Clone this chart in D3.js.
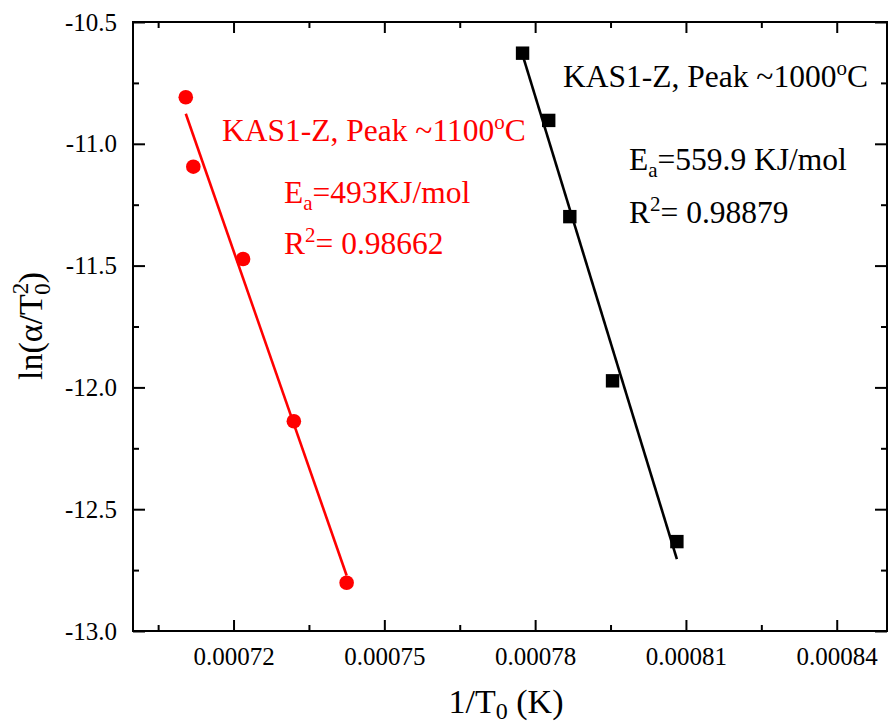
<!DOCTYPE html>
<html>
<head>
<meta charset="utf-8">
<script src="https://cdn.jsdelivr.net/npm/d3@7"></script>
<style>
  body { margin: 0; background: #fff; }
  svg text { font-family: "Liberation Serif", "Times New Roman", serif; }
</style>
</head>
<body>
<div id="chart"></div>
<script>
// data
var redX = [0.0007105, 0.0007120, 0.0007219, 0.0007320, 0.0007425];
var redY = [-10.809, -11.094, -11.473, -12.139, -12.802];
var blackX = [0.0007775, 0.0007827, 0.0007869, 0.0007954, 0.0008082];
var blackY = [-10.628, -10.904, -11.299, -11.973, -12.633];

var xTicks = [0.00072, 0.00075, 0.00078, 0.00081, 0.00084];
var xMinor = [0.000705, 0.000735, 0.000765, 0.000795, 0.000825];
var yTicks = [-13.0, -12.5, -12.0, -11.5, -11.0, -10.5];
var yMinor = [-12.75, -12.25, -11.75, -11.25, -10.75];

var W = 889, H = 724;
var pLeft = 133, pRight = 887, pTop = 22, pBottom = 631;
var serif = '"Liberation Serif", "Times New Roman", serif';

var svg = d3.select("#chart")
  .append("svg")
    .attr("width", W)
    .attr("height", H);

var x = d3.scaleLinear().domain([0.0007, 0.00085]).range([pLeft, pRight]);
var y = d3.scaleLinear().domain([-13.0, -10.5]).range([pBottom, pTop]);

var fmtY = function(d) { return d3.format(".1f")(d).replace("\u2212", "-"); };
var fmtX = d3.format(".5f");

// axes: major with labels, minor without, all ticks pointing inward
function styleAxis(g) {
  g.attr("font-family", serif);
  g.select(".domain").remove();
  g.selectAll("line").attr("stroke", "#000").attr("stroke-width", 2);
  g.selectAll("text").attr("fill", "#000")
    .style("font-family", serif)
    .style("font-size", "25px");
}

svg.append("g")
  .attr("transform", "translate(0," + pBottom + ")")
  .call(d3.axisBottom(x).tickValues(xTicks).tickFormat(fmtX).tickSize(-11).tickPadding(16))
  .call(styleAxis);
svg.append("g")
  .attr("transform", "translate(0," + pBottom + ")")
  .call(d3.axisBottom(x).tickValues(xMinor).tickFormat("").tickSize(-6))
  .call(styleAxis);
svg.append("g")
  .attr("transform", "translate(0," + pTop + ")")
  .call(d3.axisTop(x).tickValues(xTicks).tickFormat("").tickSize(-11))
  .call(styleAxis);
svg.append("g")
  .attr("transform", "translate(0," + pTop + ")")
  .call(d3.axisTop(x).tickValues(xMinor).tickFormat("").tickSize(-6))
  .call(styleAxis);

svg.append("g")
  .attr("transform", "translate(" + pLeft + ",0)")
  .call(d3.axisLeft(y).tickValues(yTicks).tickFormat(fmtY).tickSize(-12).tickPadding(16))
  .call(styleAxis);
svg.append("g")
  .attr("transform", "translate(" + pLeft + ",0)")
  .call(d3.axisLeft(y).tickValues(yMinor).tickFormat("").tickSize(-6))
  .call(styleAxis);
svg.append("g")
  .attr("transform", "translate(" + pRight + ",0)")
  .call(d3.axisRight(y).tickValues(yTicks).tickFormat("").tickSize(-12))
  .call(styleAxis);
svg.append("g")
  .attr("transform", "translate(" + pRight + ",0)")
  .call(d3.axisRight(y).tickValues(yMinor).tickFormat("").tickSize(-6))
  .call(styleAxis);

// frame
svg.append("rect")
  .attr("x", pLeft).attr("y", pTop)
  .attr("width", pRight - pLeft).attr("height", pBottom - pTop)
  .attr("fill", "none").attr("stroke", "#000").attr("stroke-width", 2);

// least squares fit over the data range
function fit(xs, ys) {
  var mx = d3.mean(xs), my = d3.mean(ys);
  var sxy = d3.sum(xs, function(v, i) { return (v - mx) * (ys[i] - my); });
  var sxx = d3.sum(xs, function(v) { return (v - mx) * (v - mx); });
  var b = sxy / sxx, a = my - b * mx;
  var x0 = d3.min(xs), x1 = d3.max(xs);
  return [[x0, a + b * x0], [x1, a + b * x1]];
}

var line = d3.line()
  .x(function(d) { return x(d[0]); })
  .y(function(d) { return y(d[1]); });

svg.append("path")
  .attr("d", line(fit(redX, redY)))
  .attr("stroke", "#ff0000").attr("stroke-width", 2.6).attr("fill", "none");
svg.append("path")
  .attr("d", line(fit(blackX, blackY)))
  .attr("stroke", "#000").attr("stroke-width", 2.6).attr("fill", "none");

svg.selectAll(".red")
  .data(redX)
  .enter().append("circle")
    .attr("class", "red")
    .attr("cx", function(d) { return x(d); })
    .attr("cy", function(d, i) { return y(redY[i]); })
    .attr("r", 7.3)
    .attr("fill", "#ff0000");

svg.selectAll(".black")
  .data(blackX)
  .enter().append("rect")
    .attr("class", "black")
    .attr("x", function(d) { return x(d) - 6.7; })
    .attr("y", function(d, i) { return y(blackY[i]) - 6.7; })
    .attr("width", 13.4)
    .attr("height", 13.4)
    .attr("fill", "#000");

// axis titles
var xt = svg.append("text")
  .attr("x", 506).attr("y", 713)
  .attr("text-anchor", "middle")
  .style("font-size", "34px");
xt.append("tspan").text("1/T");
xt.append("tspan").attr("dy", 6).style("font-size", "24px").text("0");
xt.append("tspan").attr("dy", -6).text(" (K)");

var yt = svg.append("text")
  .attr("transform", "translate(42,326) rotate(-90)")
  .attr("text-anchor", "middle")
  .style("font-size", "34px");
yt.append("tspan").text("ln(\u03b1/T");
yt.append("tspan").attr("dy", -14).style("font-size", "23px").text("2");
yt.append("tspan").attr("dx", -12).attr("dy", 22).style("font-size", "23px").text("0");
yt.append("tspan").attr("dy", -8).text(")");

// annotations
function label(g, tx, ty, color, parts) {
  var t = g.append("text").attr("x", tx).attr("y", ty).attr("fill", color).style("font-size", "31.5px");
  parts.forEach(function(p) {
    var s = t.append("tspan").text(p.t);
    if (p.dy) s.attr("dy", p.dy);
    if (p.small) s.style("font-size", "21px");
  });
}

label(svg, 222, 141, "#ff0000", [{t: "KAS1-Z, Peak ~1100"}, {t: "o", dy: -12, small: true}, {t: "C", dy: 12}]);
label(svg, 284, 203, "#ff0000", [{t: "E"}, {t: "a", dy: 7, small: true}, {t: "=493KJ/mol", dy: -7}]);
label(svg, 284, 254, "#ff0000", [{t: "R"}, {t: "2", dy: -12, small: true}, {t: "= 0.98662", dy: 12}]);

label(svg, 563, 87, "#000", [{t: "KAS1-Z, Peak ~1000"}, {t: "o", dy: -12, small: true}, {t: "C", dy: 12}]);
label(svg, 629, 170, "#000", [{t: "E"}, {t: "a", dy: 7, small: true}, {t: "=559.9 KJ/mol", dy: -7}]);
label(svg, 629, 223, "#000", [{t: "R"}, {t: "2", dy: -12, small: true}, {t: "= 0.98879", dy: 12}]);
</script>
</body>
</html>
